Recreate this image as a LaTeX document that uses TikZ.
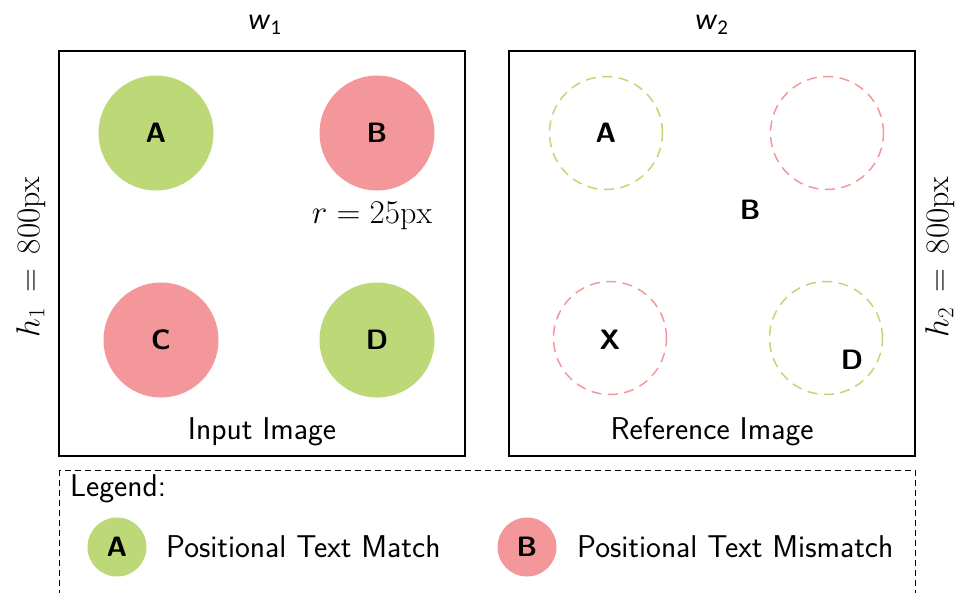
\documentclass[tikz,border=0pt]{standalone}
\usepackage{fontspec}
\newfontfamily\wfont{Carlito}
\usetikzlibrary{positioning}
\definecolor{okgreen}{RGB}{189,216,118}
\definecolor{badred}{RGB}{244,151,155}
\tikzset{
  x=1pt, y=-1pt,
  imgbox/.style={draw=black, line width=1.8pt},
  fullcirc/.style={circle, inner sep=0pt, minimum size=115pt, font=\fontsize{28}{30}\selectfont\sffamily\bfseries},
  dashcirc/.style={circle, inner sep=0pt, minimum size=113pt, line width=1.5pt, dash pattern=on 10pt off 6.5pt},
  leglbl/.style={anchor=west, inner sep=0pt, font=\fontsize{31.5}{34}\selectfont\sffamily},
  bigletter/.style={font=\fontsize{28}{30}\selectfont\sffamily\bfseries},
  legcirc/.style={circle, inner sep=0pt, minimum size=59pt, font=\fontsize{28}{30}\selectfont\sffamily\bfseries},
  mathlbl/.style={inner sep=0pt, scale=1.3333, font=\fontsize{24}{26}\selectfont},
  wlbl/.style={font=\fontsize{30}{34}\selectfont\wfont},
}
\begin{document}
\begin{tikzpicture}
\useasboundingbox (0,0) rectangle (957,592);
% boxes
\draw[imgbox] (59,51) rectangle (465,456);
\draw[imgbox] (509,51) rectangle (915,456);
% width labels
\node[wlbl] (w1) at (265,25) {\textit{w}\textsubscript{1}};
\node[wlbl] (w2) at (712,25) {\textit{w}\textsubscript{2}};
% height labels
\node[mathlbl, rotate=90] (h1) at (31,257) {$h_1 \,=\, 800\mathrm{px}$};
\node[mathlbl, rotate=90] (h2) at (940,257) {$h_2 \,=\, 800\mathrm{px}$};
% input image circles
\node[fullcirc, fill=okgreen] (iA) at (156,133) {A};
\node[fullcirc, fill=badred] (iB) at (377,133) {B};
\node[fullcirc, fill=badred] (iC) at (161,340) {C};
\node[fullcirc, fill=okgreen] (iD) at (377,340) {D};
\node[mathlbl] (rlbl) at (372,216) {$r = 25\mathrm{px}$};
\node[leglbl, anchor=center] (inlbl) at (262,432) {Input Image};
% reference image circles
\node[dashcirc, draw=okgreen] (rA) at (606,133) {};
\node[dashcirc, draw=badred] (rB) at (827,133) {};
\node[dashcirc, draw=badred] (rX) at (610,338) {};
\node[dashcirc, draw=okgreen] (rD) at (826,338) {};
\node[bigletter] (tA) at (606,133) {A};
\node[bigletter] (tB) at (750,210) {B};
\node[bigletter] (tX) at (610,340) {X};
\node[bigletter] (tD) at (852,360) {D};
\node[leglbl, anchor=center] (reflbl) at (712,432) {Reference Image};
% legend
\draw[line width=1pt, dash pattern=on 6pt off 4pt] (59,470) rectangle (915,620);
\node[leglbl] (leg) at (70,489) {Legend:};
\node[legcirc, fill=okgreen] (lA) at (117,547) {A};
\node[leglbl] (lAt) at (166,547) {Positional Text Match};
\node[legcirc, fill=badred] (lB) at (527,547) {B};
\node[leglbl] (lBt) at (577,547) {Positional Text Mismatch};
\end{tikzpicture}
\end{document}
